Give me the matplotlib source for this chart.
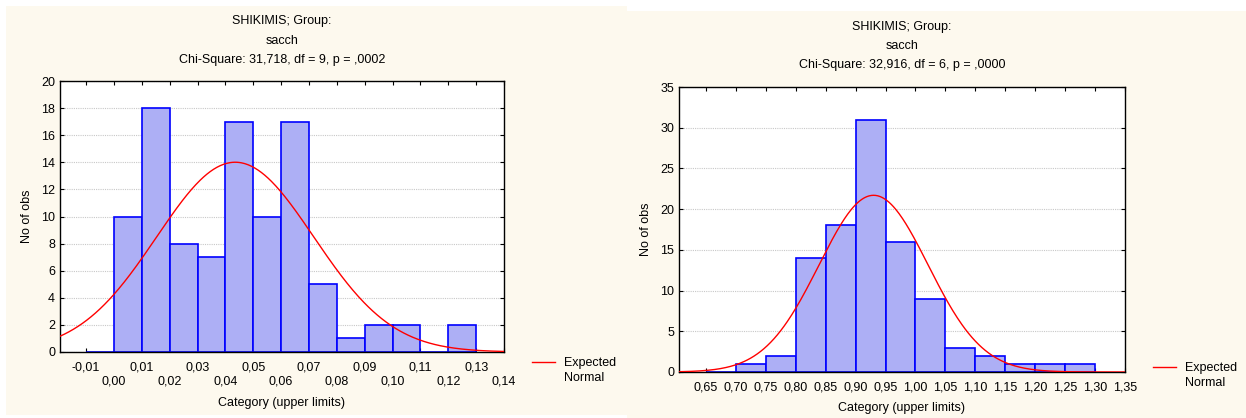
import numpy as np
import matplotlib.pyplot as plt
from matplotlib.patches import Rectangle
from matplotlib.lines import Line2D

plt.rcParams['font.family'] = ['Liberation Sans', 'DejaVu Sans']
plt.rcParams['font.size'] = 9

# left histogram: SHIKIMIS, bins of 0.01, labelled by upper limit
left_upper = [0.00, 0.01, 0.02, 0.03, 0.04, 0.05, 0.06, 0.07, 0.08, 0.09, 0.10, 0.11, 0.12, 0.13]
left_counts = [0, 10, 18, 8, 7, 17, 10, 17, 5, 1, 2, 2, 0, 2]
left_width = 0.01
left_mean, left_sd, left_n = 0.0435, 0.0282, 99
left_ticks = [-0.01, 0.00, 0.01, 0.02, 0.03, 0.04, 0.05, 0.06, 0.07, 0.08, 0.09, 0.10, 0.11, 0.12, 0.13, 0.14]
left_title = ["SHIKIMIS; Group:", "sacch", "Chi-Square: 31,718, df = 9, p = ,0002"]

# right histogram: bins of 0.05
right_upper = [0.70, 0.75, 0.80, 0.85, 0.90, 0.95, 1.00, 1.05, 1.10, 1.15, 1.20, 1.25, 1.30]
right_counts = [0, 1, 2, 14, 18, 31, 16, 9, 3, 2, 1, 1, 1]
right_width = 0.05
right_mean, right_sd, right_n = 0.930, 0.091, 99
right_ticks = [0.65, 0.70, 0.75, 0.80, 0.85, 0.90, 0.95, 1.00, 1.05, 1.10, 1.15, 1.20, 1.25, 1.30, 1.35]
right_title = ["SHIKIMIS; Group:", "sacch", "Chi-Square: 32,916, df = 6, p = ,0000"]

cream = '#fdf9ee'
bar_face = '#adaff5'
bar_edge = '#0000ff'
W, H = 1246, 418

fig = plt.figure(figsize=(12.46, 4.18), dpi=100)
fig.patch.set_facecolor('white')
# two pasted panels
fig.add_artist(Rectangle((6 / W, 3 / H), 621 / W, 409 / H, transform=fig.transFigure,
                         facecolor=cream, edgecolor='none', zorder=-10))
fig.add_artist(Rectangle((627 / W, 0), 619 / W, 407 / H, transform=fig.transFigure,
                         facecolor=cream, edgecolor='none', zorder=-10))


def fmt(v):
    return ("%.2f" % v).replace('.', ',')


def draw_hist(ax, upper, counts, width, mean, sd, n, xlim, ylim, yticks, xticks, labels, xpad, lpad):
    lefts = np.array(upper) - width
    ax.bar(lefts, counts, width=width, align='edge', facecolor=bar_face,
           edgecolor=bar_edge, linewidth=1.2, zorder=2)
    xs = np.linspace(xlim[0], xlim[1], 400)
    ys = n * width / (sd * np.sqrt(2 * np.pi)) * np.exp(-0.5 * ((xs - mean) / sd) ** 2)
    line, = ax.plot(xs, ys, color='#ff0000', linewidth=1, zorder=3)
    ax.set_xlim(*xlim)
    ax.set_ylim(*ylim)
    ax.set_yticks(yticks)
    ax.set_xticks(xticks)
    ax.set_xticklabels(labels)
    ax.tick_params(direction='in', top=True, right=True, length=3, width=0.8)
    ax.tick_params(axis='x', pad=xpad)
    ax.yaxis.grid(True, linestyle=(0, (1, 1)), color='#c8c8c8', linewidth=0.8, zorder=0)
    ax.set_axisbelow(True)
    for s in ax.spines.values():
        s.set_linewidth(1)
    ax.set_ylabel("No of obs", labelpad=6)
    ax.set_xlabel("Category (upper limits)", labelpad=lpad)
    ax.set_facecolor('white')
    # legend: line next to first row of the two-line label
    blank = Line2D([], [], color='none')
    return line, blank


def put_title(lines, xc, ys):
    for txt, y in zip(lines, ys):
        fig.text(xc / W, 1 - y / H, txt, ha='center', va='center', fontsize=9)


# left chart
ax1 = fig.add_axes([60 / W, 66 / H, 444 / W, 271 / H])
lab1 = []
for i, t in enumerate(left_ticks):
    lab1.append(fmt(t) if i % 2 == 0 else "\n" + fmt(t))
l1, b1 = draw_hist(ax1, left_upper, left_counts, left_width, left_mean, left_sd, left_n,
                   (-0.0194, 0.14), (0, 20), range(0, 21, 2), left_ticks, lab1, 7, 7)
put_title(left_title, 282, [21, 41, 60])
ax1.legend([l1, b1], ["Expected", "Normal"], loc='upper left',
           bbox_to_anchor=(532 / W, 1 - 357 / H), bbox_transform=fig.transFigure,
           frameon=False, handlelength=1.85, handletextpad=0.7, labelspacing=0.22,
           borderaxespad=0, borderpad=0)

# right chart
ax2 = fig.add_axes([679 / W, 46 / H, 446 / W, 285 / H])
lab2 = [fmt(t) for t in right_ticks]
l2, b2 = draw_hist(ax2, right_upper, right_counts, right_width, right_mean, right_sd, right_n,
                   (0.605, 1.35), (0, 35), range(0, 36, 5), right_ticks, lab2, 7, 6)
put_title(right_title, 902, [27, 46, 65])
ax2.legend([l2, b2], ["Expected", "Normal"], loc='upper left',
           bbox_to_anchor=(1153 / W, 1 - 362 / H), bbox_transform=fig.transFigure,
           frameon=False, handlelength=1.85, handletextpad=0.7, labelspacing=0.22,
           borderaxespad=0, borderpad=0)

fig.savefig("out.png", dpi=100)
